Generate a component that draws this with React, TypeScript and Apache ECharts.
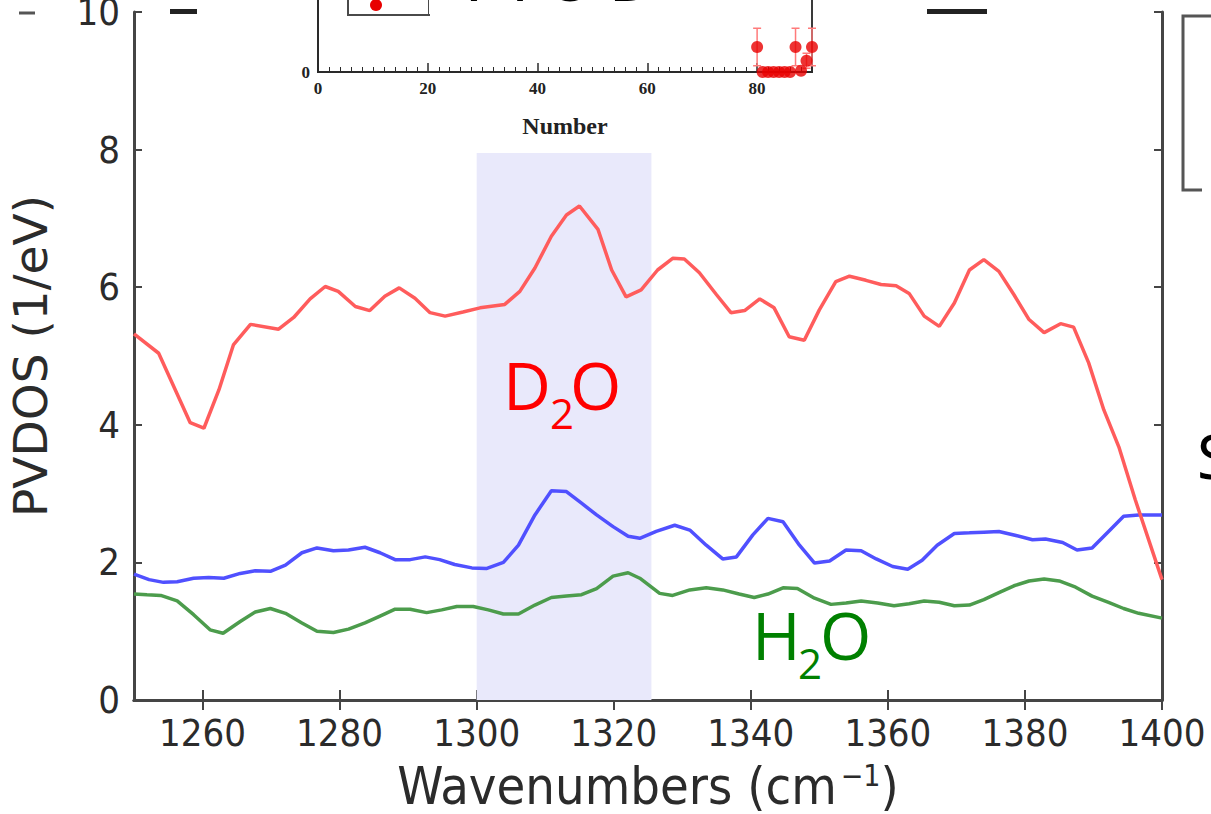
import React, { useEffect, useRef } from "react";
import * as echarts from "echarts";

// ---- main panel data (wavenumber, PVDOS) ----
const d2oRed: [number, number][] = [
  [1250, 5.32], [1253.6, 5.04], [1258.2, 4.03], [1260.2, 3.95], [1262.4, 4.51], [1264.5, 5.16],
  [1267, 5.46], [1271.1, 5.39], [1273.3, 5.56], [1275.7, 5.83], [1277.9, 6.01], [1279.8, 5.94],
  [1282.3, 5.72], [1284.4, 5.66], [1286.6, 5.87], [1288.7, 5.99], [1291, 5.84], [1293.2, 5.63],
  [1295.4, 5.58], [1298, 5.64], [1300.5, 5.7], [1304.1, 5.75], [1306.3, 5.94], [1308.5, 6.28],
  [1310.9, 6.74], [1313.1, 7.05], [1315, 7.18], [1317.7, 6.84], [1319.7, 6.25], [1321.8, 5.86],
  [1324, 5.96], [1326.4, 6.25], [1328.6, 6.42], [1330.3, 6.41], [1332.5, 6.21], [1335, 5.89],
  [1337.1, 5.63], [1339.1, 5.66], [1341.3, 5.83], [1343.4, 5.7], [1345.6, 5.28], [1347.8, 5.23],
  [1350, 5.67], [1352.4, 6.08], [1354.4, 6.16], [1356.8, 6.1], [1359, 6.04], [1361.2, 6.02],
  [1363.1, 5.91], [1365.3, 5.58], [1367.5, 5.43], [1369.7, 5.77], [1371.9, 6.25], [1374, 6.4],
  [1376.2, 6.23], [1378.4, 5.89], [1380.6, 5.53], [1382.8, 5.34], [1385.2, 5.47], [1387.1, 5.42],
  [1389.3, 4.9], [1391.5, 4.22], [1393.7, 3.68], [1396.1, 2.91], [1400, 1.75],
];

const blueLine: [number, number][] = [
  [1250, 1.83], [1252.2, 1.75], [1254.3, 1.71], [1256.3, 1.72], [1258.7, 1.77], [1260.9, 1.78],
  [1263.1, 1.77], [1265.5, 1.84], [1267.7, 1.88], [1269.9, 1.87], [1272.1, 1.96], [1274.5, 2.14],
  [1276.7, 2.21], [1279.1, 2.17], [1281.3, 2.18], [1283.7, 2.22], [1285.9, 2.14], [1288.1, 2.04],
  [1290.3, 2.04], [1292.5, 2.08], [1294.6, 2.04], [1296.8, 1.97], [1299.3, 1.92], [1301.4, 1.91],
  [1303.9, 2.0], [1306.1, 2.25], [1308.5, 2.69], [1310.9, 3.04], [1313.1, 3.03], [1315.3, 2.86],
  [1317.5, 2.69], [1319.9, 2.52], [1322.1, 2.38], [1323.8, 2.35], [1326.2, 2.45], [1328.9, 2.54],
  [1331.1, 2.47], [1333.5, 2.25], [1335.9, 2.05], [1337.9, 2.08], [1340.3, 2.4], [1342.5, 2.64],
  [1344.7, 2.59], [1347.1, 2.25], [1349.3, 1.99], [1351.5, 2.02], [1353.9, 2.18], [1356.1, 2.17],
  [1358.3, 2.05], [1360.7, 1.94], [1362.9, 1.9], [1365, 2.03], [1367.2, 2.25], [1369.7, 2.42],
  [1371.9, 2.43], [1374, 2.44], [1376.2, 2.45], [1378.7, 2.39], [1381.1, 2.33], [1383, 2.34],
  [1385.5, 2.29], [1387.6, 2.18], [1389.8, 2.21], [1392.2, 2.45], [1394.4, 2.67], [1396.6, 2.69],
  [1400, 2.69],
];

const h2oGreen: [number, number][] = [
  [1250, 1.54], [1251.9, 1.53], [1253.9, 1.52], [1256.3, 1.44], [1258.7, 1.24], [1261.1, 1.02],
  [1263, 0.97], [1265.5, 1.14], [1267.7, 1.28], [1269.9, 1.33], [1272.1, 1.26], [1274.5, 1.12],
  [1276.7, 1.0], [1279.1, 0.98], [1281.3, 1.03], [1283.7, 1.12], [1285.9, 1.22], [1288.1, 1.32],
  [1290.3, 1.32], [1292.7, 1.27], [1294.9, 1.31], [1297.1, 1.36], [1299.5, 1.36], [1301.7, 1.31],
  [1303.9, 1.25], [1306.1, 1.25], [1308.5, 1.38], [1310.9, 1.49], [1313.1, 1.51], [1315.3, 1.53],
  [1317.5, 1.62], [1319.9, 1.8], [1322.1, 1.85], [1323.8, 1.77], [1326.7, 1.55], [1328.6, 1.52],
  [1331.1, 1.6], [1333.5, 1.63], [1335.9, 1.6], [1338.3, 1.54], [1340.5, 1.49], [1342.5, 1.54],
  [1344.7, 1.63], [1346.8, 1.62], [1349.3, 1.48], [1351.7, 1.39], [1353.9, 1.41], [1356.1, 1.44],
  [1358.5, 1.41], [1360.9, 1.37], [1363.1, 1.4], [1365.3, 1.44], [1367.5, 1.42], [1369.7, 1.37],
  [1371.9, 1.38], [1374, 1.46], [1376.2, 1.56], [1378.4, 1.66], [1380.6, 1.73], [1382.8, 1.76],
  [1385, 1.73], [1387.4, 1.64], [1389.8, 1.51], [1392.2, 1.42], [1394.4, 1.33], [1396.6, 1.26],
  [1400, 1.19],
];

const xTickValues = [1260, 1280, 1300, 1320, 1340, 1360, 1380, 1400];
const bandRange = { x0: 1300, x1: 1325.5, y0: 0, y1: 7.95 };

// ---- inset data (Number, value, error) ----
const insetPoints: [number, number][] = [
  [80, 1.0], [81, 0], [82, 0], [83, 0], [84, 0], [85, 0], [86, 0], [87, 1.0], [88, 0.05], [89, 0.45], [90, 1.0],
];
const insetErrors: [number, number, number][] = [
  [80, 1.0, 0.75], [87, 1.0, 0.75], [90, 1.0, 0.75], [89, 0.45, 0.3],
];

const FRAME = "#454545";
const TICKFONT = "'DejaVu Sans Condensed', 'Liberation Sans Narrow', 'DejaVu Sans', sans-serif";

export default function App() {
  const ref = useRef<HTMLDivElement>(null);
  useEffect(() => {
    if (!ref.current) return;
    const chart = echarts.init(ref.current, null, { renderer: "svg" });
    const mainTick = { inside: true, length: 10, lineStyle: { color: FRAME, width: 2 } };
    const option: any = {
      animation: false,
      backgroundColor: "#ffffff",
      grid: [
        { left: 134, right: 49, top: 12, bottom: 114, outerBoundsMode: "none", containLabel: false },
        {
          left: 318, width: 494, top: -28, height: 100, z: 4, outerBoundsMode: "none", containLabel: false,
          show: true, borderColor: "#3a3a3a", borderWidth: 2, backgroundColor: "transparent",
        },
      ],
      xAxis: [
        {
          type: "value", gridIndex: 0, position: "bottom", min: 1250, max: 1400,
          axisLine: { show: true, lineStyle: { color: FRAME, width: 3 } },
          axisTick: { ...mainTick, customValues: xTickValues },
          axisLabel: {
            customValues: xTickValues, fontSize: 38, fontFamily: TICKFONT, color: "#2b2b2b", margin: 14,
            formatter: (v: number) => String(v),
          },
          splitLine: { show: false },
          name: "Wavenumbers (cm{sup|−1})",
          nameLocation: "middle",
          nameGap: 60,
          nameTextStyle: {
            fontSize: 52, lineHeight: 52, fontFamily: TICKFONT, color: "#2b2b2b",
            rich: { sup: { fontSize: 30, lineHeight: 52, fontFamily: TICKFONT, color: "#2b2b2b", verticalAlign: "top", padding: [0, 0, 26, 4] } },
          },
        },
        {
          type: "value", gridIndex: 0, position: "top", min: 1250, max: 1400,
          axisLine: { show: true, lineStyle: { color: FRAME, width: 3 } },
          axisTick: { ...mainTick, customValues: xTickValues },
          axisLabel: { show: false },
          splitLine: { show: false },
        },
        {
          type: "value", gridIndex: 1, min: 0, max: 90, interval: 20, z: 5,
          axisLine: { show: true, onZero: false, lineStyle: { color: "#2a2a2a", width: 2 } },
          axisTick: { inside: true, length: 9, lineStyle: { color: "#2a2a2a", width: 1.5 } },
          minorTick: { show: true, splitNumber: 10, length: 5, lineStyle: { color: "#2a2a2a", width: 1 } },
          axisLabel: {
            fontSize: 17, fontWeight: "bold", fontFamily: "'Liberation Serif', serif", color: "#222",
            margin: 8, showMaxLabel: false,
          },
          splitLine: { show: false },
          name: "Number",
          nameLocation: "middle",
          nameGap: 42,
          nameTextStyle: { fontSize: 24, fontWeight: "bold", fontFamily: "'Liberation Serif', serif", color: "#222" },
        },
      ],
      yAxis: [
        {
          type: "value", gridIndex: 0, position: "left", min: 0, max: 10, interval: 2,
          axisLine: { show: true, lineStyle: { color: FRAME, width: 3 } },
          axisTick: { ...mainTick, length: 8 },
          axisLabel: { fontSize: 38, fontFamily: TICKFONT, color: "#2b2b2b", margin: 14 },
          splitLine: { show: false },
          name: "PVDOS (1/eV)",
          nameLocation: "middle",
          nameGap: 80,
          nameTextStyle: { fontSize: 47, fontFamily: "'DejaVu Sans', sans-serif", color: "#2b2b2b" },
        },
        {
          type: "value", gridIndex: 0, position: "right", min: 0, max: 10, interval: 2,
          axisLine: { show: true, lineStyle: { color: FRAME, width: 3 } },
          axisTick: { ...mainTick, length: 8 },
          axisLabel: { show: false },
          splitLine: { show: false },
        },
        {
          type: "value", gridIndex: 1, min: 0, max: 4, interval: 4, z: 5,
          axisLine: { show: true, lineStyle: { color: "#2a2a2a", width: 2 } },
          axisTick: { show: false },
          axisLabel: {
            fontSize: 17, fontWeight: "bold", fontFamily: "'Liberation Serif', serif", color: "#222", margin: 8,
            formatter: (v: number) => (v === 0 ? "0" : ""),
          },
          splitLine: { show: false },
        },
      ],
      series: [
        {
          type: "line", xAxisIndex: 0, yAxisIndex: 0, data: [], z: 1, silent: true,
          markArea: {
            silent: true,
            itemStyle: { color: "#e9e9fb" },
            data: [[{ coord: [bandRange.x0, bandRange.y0] }, { coord: [bandRange.x1, bandRange.y1] }]],
          },
        },
        {
          name: "H2O", type: "line", xAxisIndex: 0, yAxisIndex: 0, data: h2oGreen, symbol: "none",
          lineStyle: { color: "#4c9c4c", width: 3.5 }, z: 2,
        },
        {
          name: "blue", type: "line", xAxisIndex: 0, yAxisIndex: 0, data: blueLine, symbol: "none",
          lineStyle: { color: "#5050ff", width: 3.5 }, z: 2,
        },
        {
          name: "D2O", type: "line", xAxisIndex: 0, yAxisIndex: 0, data: d2oRed, symbol: "none",
          lineStyle: { color: "#ff5c5c", width: 3.5 }, z: 2,
        },
        {
          type: "custom", xAxisIndex: 2, yAxisIndex: 2, data: insetErrors, z: 6,
          renderItem: (_p: any, api: any) => {
            const x = api.value(0), y = api.value(1), e = api.value(2);
            const top = api.coord([x, y + e]);
            const bot = api.coord([x, y - e]);
            const w = 8;
            const st = { stroke: "#ff7a7a", lineWidth: 1.5 };
            return {
              type: "group",
              children: [
                { type: "line", shape: { x1: top[0], y1: top[1], x2: bot[0], y2: bot[1] }, style: st },
                { type: "line", shape: { x1: top[0] - w / 2, y1: top[1], x2: top[0] + w / 2, y2: top[1] }, style: st },
                { type: "line", shape: { x1: bot[0] - w / 2, y1: bot[1], x2: bot[0] + w / 2, y2: bot[1] }, style: st },
              ],
            };
          },
        },
        {
          type: "scatter", xAxisIndex: 2, yAxisIndex: 2, data: insetPoints, z: 7,
          symbol: "circle", symbolSize: 12, itemStyle: { color: "#e80000" },
        },
      ],
      graphic: [
        { type: "rect", z: 3, shape: { x: 224, y: 0, width: 637, height: 146 }, style: { fill: "#ffffff" } },
        { type: "rect", z: 8, shape: { x: 348, y: -30, width: 81, height: 45 }, style: { fill: "#ffffff", stroke: "#4a4a4a", lineWidth: 2 } },
        { type: "circle", z: 9, shape: { cx: 376, cy: 5, r: 6 }, style: { fill: "#e80000" } },
        { type: "rect", z: 9, shape: { x: 429, y: -40, width: 240, height: 54 }, style: { fill: "#ffffff" } },
        { type: "text", z: 10, x: 474, y: 8, style: { text: "V", fontSize: 64, fontFamily: "'Noto Sans', sans-serif", fill: "#000", align: "center", verticalAlign: "bottom" } },
        { type: "text", z: 10, x: 520, y: 8, style: { text: "T", fontSize: 64, fontFamily: "'Noto Sans', sans-serif", fill: "#000", align: "center", verticalAlign: "bottom" } },
        { type: "text", z: 10, x: 570, y: 8, style: { text: "O", fontSize: 64, fontFamily: "'Noto Sans', sans-serif", fill: "#000", align: "center", verticalAlign: "bottom" } },
        { type: "text", z: 10, x: 632, y: 8, style: { text: "D", fontSize: 64, fontFamily: "'Noto Sans', sans-serif", fill: "#000", align: "center", verticalAlign: "bottom" } },
        { type: "rect", z: 4, shape: { x: 170, y: 9, width: 27, height: 5 }, style: { fill: "#222" } },
        { type: "rect", z: 4, shape: { x: 927, y: 9, width: 60, height: 5 }, style: { fill: "#222" } },
        { type: "line", z: 4, shape: { x1: 19, y1: 13, x2: 35, y2: 13 }, style: { stroke: "#555", lineWidth: 3 } },
        {
          type: "polyline", z: 4,
          shape: { points: [[1211, 16], [1183, 16], [1183, 190], [1202, 190]] },
          style: { stroke: "#555", lineWidth: 3, fill: null },
        },
        { type: "text", z: 4, x: 1197, y: 455, style: { text: "S", fontSize: 62, fontFamily: "'Noto Sans', sans-serif", fill: "#000", verticalAlign: "middle" } },
        // D2O annotation
        { type: "text", z: 10, x: 503, y: 417, style: { text: "D", fontSize: 66, fontFamily: "'Open Sans', 'Noto Sans', sans-serif", fill: "#ff0000", verticalAlign: "bottom" } },
        { type: "text", z: 10, x: 550, y: 433, style: { text: "2", fontSize: 42, fontFamily: "'Open Sans', 'Noto Sans', sans-serif", fill: "#ff0000", verticalAlign: "bottom" } },
        { type: "text", z: 10, x: 570, y: 417, style: { text: "O", fontSize: 66, fontFamily: "'Open Sans', 'Noto Sans', sans-serif", fill: "#ff0000", verticalAlign: "bottom" } },
        // H2O annotation
        { type: "text", z: 10, x: 752, y: 667, style: { text: "H", fontSize: 66, fontFamily: "'Open Sans', 'Noto Sans', sans-serif", fill: "#008000", verticalAlign: "bottom" } },
        { type: "text", z: 10, x: 798, y: 683, style: { text: "2", fontSize: 42, fontFamily: "'Open Sans', 'Noto Sans', sans-serif", fill: "#008000", verticalAlign: "bottom" } },
        { type: "text", z: 10, x: 820, y: 667, style: { text: "O", fontSize: 66, fontFamily: "'Open Sans', 'Noto Sans', sans-serif", fill: "#008000", verticalAlign: "bottom" } },
      ],
    };
    chart.setOption(option);
    return () => chart.dispose();
  }, []);
  return <div ref={ref} style={{ position: "fixed", left: 0, top: 0, width: 1211, height: 814 }} />;
}
